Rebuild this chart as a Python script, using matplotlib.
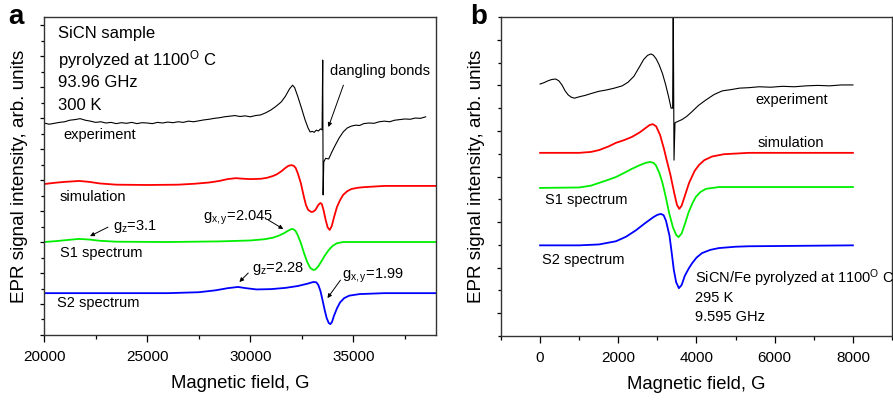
import matplotlib
matplotlib.use("Agg")
import matplotlib.pyplot as plt
from matplotlib.ticker import MultipleLocator, NullFormatter

plt.rcParams['font.family'] = ['Liberation Sans', 'DejaVu Sans']
plt.rcParams['mathtext.fontset'] = 'custom'
plt.rcParams['mathtext.rm'] = 'Liberation Sans'
plt.rcParams['mathtext.it'] = 'Liberation Sans:italic'

# ---------------- Panel a data (93.96 GHz) ----------------
a_exp_field = [20000, 20250, 20500, 20750, 21000, 21250, 21500, 21750, 22000, 22250, 22500, 22750,
               23000, 23250, 23500, 23750, 24000, 24250, 24500, 24750, 25000, 25250, 25500, 25750,
               26000, 26250, 26500, 26750, 27000, 27250, 27500, 27750, 28000, 28250, 28500, 28750,
               29000, 29250, 29500, 29750, 30000, 30250, 30500, 30750, 31000, 31250, 31500, 31700,
               31900, 32050, 32150, 32300, 32500, 32650, 32800, 32900, 33000, 33100, 33200, 33300,
               33400, 33480, 33510, 33530, 33560, 33650, 33800, 33950, 34100, 34300, 34500, 34700,
               34900, 35100, 35300, 35500, 35750, 36000, 36250, 36500, 36750, 37000, 37250, 37500,
               37750, 38000, 38250, 38500]
a_exp_int = [6.84, 6.80, 6.83, 6.86, 6.88, 6.93, 6.95, 6.98, 6.93, 6.90, 6.86, 6.88,
             6.84, 6.86, 6.82, 6.85, 6.83, 6.86, 6.82, 6.85, 6.84, 6.82, 6.86, 6.84,
             6.87, 6.85, 6.88, 6.86, 6.90, 6.88, 6.91, 6.94, 6.96, 6.99, 7.01, 7.04,
             7.06, 7.08, 7.05, 7.07, 7.04, 7.08, 7.10, 7.17, 7.26, 7.38, 7.52, 7.70,
             7.94, 8.06, 7.98, 7.70, 7.28, 6.95, 6.68, 6.55, 6.57, 6.54, 6.61, 6.58,
             6.65, 6.62, 8.87, 4.52, 5.58, 5.70, 5.68, 5.90, 6.10, 6.35, 6.55, 6.68,
             6.74, 6.77, 6.76, 6.82, 6.84, 6.83, 6.88, 6.90, 6.88, 6.93, 6.95, 6.97,
             6.96, 7.00, 6.99, 7.04]

a_sim_field = [20000, 20500, 21000, 21700, 22200, 22700, 23500, 25000, 26500, 27300, 28000, 28500,
               28900, 29300, 29700, 30000, 30500, 30800, 31100, 31300, 31500, 31700, 31850, 32000,
               32100, 32200, 32300, 32450, 32600, 32700, 32800, 32950, 33050, 33150, 33300, 33400,
               33470, 33550, 33650, 33750, 33850, 33950, 34050, 34200, 34350, 34500, 34700, 34900,
               35200, 35500, 36500, 39000]
a_sim_int = [4.87, 4.91, 4.94, 4.97, 4.94, 4.89, 4.85, 4.84, 4.85, 4.88, 4.92, 4.97,
             5.03, 5.06, 5.04, 5.03, 5.04, 5.07, 5.13, 5.19, 5.28, 5.39, 5.46, 5.48,
             5.46, 5.39, 5.22, 4.90, 4.45, 4.19, 4.04, 3.97, 3.98, 4.03, 4.20, 4.26,
             4.22, 4.03, 3.72, 3.47, 3.39, 3.52, 3.78, 4.13, 4.35, 4.52, 4.64, 4.71,
             4.75, 4.77, 4.81, 4.81]

a_s1_field = [20000, 20600, 21200, 21700, 22200, 22700, 23500, 26000, 28500, 30000, 30700, 31100,
              31400, 31650, 31850, 32000, 32100, 32200, 32300, 32450, 32600, 32750, 32900, 33050,
              33150, 33300, 33450, 33600, 33800, 34000, 34200, 34500, 39000]
a_s1_int = [3.00, 3.03, 3.07, 3.10, 3.08, 3.04, 3.01, 3.00, 3.02, 3.05, 3.09, 3.14,
            3.21, 3.29, 3.37, 3.42, 3.41, 3.35, 3.22, 2.97, 2.65, 2.37, 2.17, 2.10,
            2.11, 2.22, 2.38, 2.55, 2.74, 2.88, 2.96, 3.00, 3.00]

a_s2_field = [20000, 26000, 27500, 28300, 28900, 29400, 29800, 30300, 31000, 31700, 32300, 32800,
              33050, 33200, 33300, 33400, 33500, 33600, 33700, 33800, 33880, 33960, 34050, 34200,
              34350, 34550, 34800, 35300, 36500, 39000]
a_s2_int = [1.35, 1.35, 1.38, 1.44, 1.51, 1.55, 1.51, 1.47, 1.48, 1.52, 1.58, 1.66,
            1.71, 1.70, 1.61, 1.42, 1.13, 0.82, 0.55, 0.39, 0.35, 0.42, 0.61, 0.86,
            1.05, 1.19, 1.27, 1.32, 1.35, 1.35]

a_xticks = [20000, 25000, 30000, 35000]

# ---------------- Panel b data (9.595 GHz) ----------------
b_exp_field = [0, 100, 200, 300, 400, 480, 560, 640, 720, 800, 880, 960, 1050, 1150, 1300, 1500,
               1700, 1900, 2100, 2250, 2400, 2550, 2650, 2750, 2835, 2900, 2970, 3040, 3130, 3210,
               3290, 3350, 3390, 3405, 3425, 3450, 3550, 3630, 3750, 3880, 4050, 4240, 4450, 4660,
               4900, 5100, 5340, 5600, 5900, 6200, 6500, 6800, 7100, 7400, 7700, 8000]
b_exp_int = [5.03, 5.06, 5.10, 5.13, 5.14, 5.10, 5.01, 4.88, 4.79, 4.74, 4.72, 4.74, 4.76, 4.78, 4.82, 4.87,
             4.90, 4.94, 4.99, 5.07, 5.20, 5.42, 5.57, 5.66, 5.69, 5.66, 5.58, 5.46, 5.26, 5.02,
             4.74, 4.50, 4.50, 6.90, 3.36, 4.18, 4.22, 4.25, 4.32, 4.42, 4.56, 4.68, 4.80, 4.88,
             4.91, 4.94, 4.95, 4.97, 4.96, 4.98, 4.97, 4.99, 5.00, 4.99, 5.01, 5.01]

b_sim_field = [0, 1000, 1300, 1507, 1750, 1941, 2150, 2350, 2550, 2690, 2800, 2885, 2970, 3070,
               3170, 3250, 3335, 3430, 3500, 3560, 3620, 3700, 3810, 3950, 4060, 4200, 4400, 4700,
               5340, 8000]
b_sim_int = [3.52, 3.52, 3.54, 3.58, 3.66, 3.74, 3.80, 3.87, 3.97, 4.06, 4.13, 4.15, 4.10, 3.91,
             3.60, 3.32, 3.03, 2.64, 2.38, 2.29, 2.36, 2.57, 2.86, 3.12, 3.25, 3.36, 3.44, 3.49,
             3.52, 3.52]

b_s1_field = [0, 1000, 1300, 1507, 1750, 1941, 2150, 2350, 2550, 2700, 2810, 2900, 2960, 3050,
              3130, 3220, 3300, 3400, 3480, 3540, 3620, 3700, 3800, 3900, 3980, 4100, 4240, 4580,
              8000]
b_s1_int = [2.75, 2.76, 2.80, 2.86, 2.93, 2.99, 3.08, 3.17, 3.25, 3.30, 3.32, 3.30, 3.25, 3.08,
            2.86, 2.53, 2.20, 1.88, 1.72, 1.67, 1.75, 1.95, 2.22, 2.42, 2.55, 2.66, 2.73, 2.77,
            2.77]

b_s2_field = [0, 1000, 1507, 1941, 2200, 2450, 2690, 2900, 3000, 3090, 3160, 3220, 3310, 3370,
              3420, 3480, 3550, 3620, 3700, 3800, 3890, 4000, 4140, 4350, 4570, 5000, 5340, 8000]
b_s2_int = [1.49, 1.49, 1.51, 1.58, 1.68, 1.82, 1.98, 2.11, 2.16, 2.18, 2.15, 2.03, 1.70, 1.30,
            0.95, 0.68, 0.55, 0.62, 0.82, 0.98, 1.10, 1.22, 1.32, 1.39, 1.43, 1.46, 1.47, 1.49]

b_xticks = [0, 2000, 4000, 6000, 8000]

# ---------------- Figure ----------------
fig = plt.figure(figsize=(8.93, 4.01), dpi=100)
axa = fig.add_axes([0.0493, 0.1646, 0.4389, 0.7930])
axb = fig.add_axes([0.5610, 0.1620, 0.4379, 0.7955])

RED, GREEN, BLUE = '#ff0000', '#00ee00', '#0000ff'

def style(ax):
    for s in ax.spines.values():
        s.set_linewidth(1.0)
        s.set_color('#333333')
    ax.tick_params(axis='x', which='major', direction='out', length=5, width=0.9, labelsize=11, pad=6)
    ax.tick_params(axis='x', which='minor', direction='out', length=3, width=0.9)
    ax.tick_params(axis='y', which='major', direction='out', length=3, width=0.9)
    ax.tick_params(axis='y', which='minor', direction='out', length=2, width=0.9)
    ax.yaxis.set_major_formatter(NullFormatter())
    ax.yaxis.set_minor_formatter(NullFormatter())
    ax.set_xlabel('Magnetic field, G', fontsize=13.3, labelpad=8)
    ax.set_ylabel('EPR signal intensity, arb. units', fontsize=13.6, labelpad=5)

# Panel a
axa.plot(a_exp_field, a_exp_int, color='black', lw=0.8)
axa.plot(a_sim_field, a_sim_int, color=RED, lw=1.3)
axa.plot(a_s1_field, a_s1_int, color=GREEN, lw=1.3)
axa.plot(a_s2_field, a_s2_int, color=BLUE, lw=1.3)
axa.set_xlim(20000, 39000)
axa.set_ylim(0, 10.26)
axa.set_xticks(a_xticks)
axa.xaxis.set_minor_locator(MultipleLocator(2500))
axa.yaxis.set_major_locator(MultipleLocator(1))
axa.yaxis.set_minor_locator(MultipleLocator(0.5))
style(axa)

fs_info = 12
fs_lab = 10.5
axa.text(20680, 9.74, 'SiCN sample', fontsize=fs_info, va='center')
axa.text(20680, 8.90, 'pyrolyzed at 1100$^{\\mathrm{O}}$ C', fontsize=fs_info, va='center')
axa.text(20680, 8.16, '93.96 GHz', fontsize=fs_info, va='center')
axa.text(20680, 7.42, '300 K', fontsize=fs_info, va='center')
axa.text(33880, 8.52, 'dangling bonds', fontsize=fs_lab, va='center')
axa.text(20920, 6.45, 'experiment', fontsize=fs_lab, va='center')
axa.text(20730, 4.45, 'simulation', fontsize=fs_lab, va='center')
axa.text(20780, 2.65, 'S1 spectrum', fontsize=fs_lab, va='center')
axa.text(20630, 1.03, 'S2 spectrum', fontsize=fs_lab, va='center')
axa.text(23350, 3.50, 'g$_{\\mathrm{z}}$=3.1', fontsize=fs_lab, va='center')
axa.text(27720, 3.78, 'g$_{\\mathrm{x,y}}$=2.045', fontsize=fs_lab, va='center')
axa.text(30100, 2.13, 'g$_{\\mathrm{z}}$=2.28', fontsize=fs_lab, va='center')
axa.text(34460, 1.92, 'g$_{\\mathrm{x,y}}$=1.99', fontsize=fs_lab, va='center')

arr = dict(arrowstyle='-|>', color='black', lw=0.7, mutation_scale=6, shrinkA=0, shrinkB=0)
axa.annotate('', xy=(33785, 6.71), xytext=(34513, 8.06), arrowprops=arr)
axa.annotate('', xy=(22230, 3.19), xytext=(23100, 3.48), arrowprops=arr)
axa.annotate('', xy=(31600, 3.42), xytext=(30870, 3.71), arrowprops=arr)
axa.annotate('', xy=(29470, 1.71), xytext=(29900, 2.00), arrowprops=arr)
axa.annotate('', xy=(33740, 1.19), xytext=(34370, 1.77), arrowprops=arr)

# Panel b
axb.plot(b_exp_field, b_exp_int, color='black', lw=0.8)
axb.plot(b_sim_field, b_sim_int, color=RED, lw=1.3)
axb.plot(b_s1_field, b_s1_int, color=GREEN, lw=1.3)
axb.plot(b_s2_field, b_s2_int, color=BLUE, lw=1.3)
axb.set_xlim(-1000, 9000)
axb.set_ylim(-0.5, 6.5)
axb.set_xticks(b_xticks)
axb.xaxis.set_minor_locator(MultipleLocator(1000))
axb.yaxis.set_major_locator(MultipleLocator(1))
axb.yaxis.set_minor_locator(MultipleLocator(0.5))
style(axb)

axb.text(5517, 4.68, 'experiment', fontsize=fs_lab, va='center')
axb.text(5568, 3.74, 'simulation', fontsize=fs_lab, va='center')
axb.text(128, 2.48, 'S1 spectrum', fontsize=fs_lab, va='center')
axb.text(51, 1.16, 'S2 spectrum', fontsize=fs_lab, va='center')
axb.text(3960, 0.77, 'SiCN/Fe pyrolyzed at 1100$^{\\mathrm{O}}$ C', fontsize=fs_lab, va='center')
axb.text(3960, 0.33, '295 K', fontsize=fs_lab, va='center')
axb.text(3960, -0.09, '9.595 GHz', fontsize=fs_lab, va='center')

fig.text(15.5 / 893, 1 - 24 / 401, 'a', fontsize=20, fontweight='bold', ha='center', va='baseline')
fig.text(479 / 893, 1 - 24 / 401, 'b', fontsize=20, fontweight='bold', ha='center', va='baseline')

fig.savefig('out.png', dpi=100)
